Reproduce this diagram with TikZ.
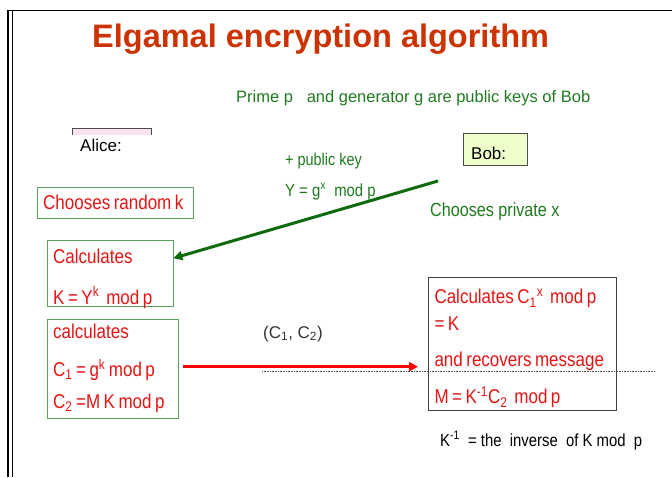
\documentclass[tikz,border=0pt]{standalone}
\usepackage{fontspec}
\setmainfont{Liberation Sans}
\newfontfamily\narrowfont{Liberation Sans}[FakeStretch=0.85]
\usetikzlibrary{arrows.meta, positioning}
\definecolor{titlered}{HTML}{CC3300}
\definecolor{keygreen}{HTML}{1F7A1F}
\definecolor{arrowgreen}{HTML}{0E6A0E}
\definecolor{boxgreen}{HTML}{5A9E5A}
\definecolor{msgred}{HTML}{E51515}
\definecolor{alicepink}{HTML}{FBE2F2}
\definecolor{bobfill}{HTML}{EEFFCC}
\tikzstyle{alicebox} = [rectangle, draw=boxgreen, fill=white, anchor=north west, align=left, text=msgred, inner xsep=6pt, inner ysep=2pt, font=\narrowfont\fontsize{20}{23}\selectfont, execute at begin node={\spaceskip=3.5pt plus 1pt minus 1pt\relax}]
\tikzstyle{bobbox} = [alicebox, draw=black!75, line width=1pt]
\tikzstyle{note} = [anchor=base west, inner sep=0pt, text=keygreen, font=\fontsize{16.5}{19}\selectfont]
\tikzstyle{arrow} = [-{Triangle[length=9pt,width=9pt]}]

\begin{document}
\begin{tikzpicture}[x=1pt, y=-1pt]
    \useasboundingbox (0,0) rectangle (672,477);
    % slide frame
    \draw[line width=2.5pt] (8,10) -- (8,477);
    \draw[line width=0.8pt] (12.5,10) -- (12.5,477);
    \draw[line width=1.2pt] (7,10.5) -- (672,10.5);

    \node (title) [anchor=base west, inner sep=0pt, text=titlered, font=\fontsize{32.5}{38}\selectfont\bfseries] at (92,47) {Elgamal encryption algorithm};
    \node (pubparams) [note] at (236,102) {Prime p \ \ and generator g are public keys of Bob};

    % Alice side
    \filldraw[fill=alicepink, draw=black!70] (72,135) -- (72,128.5) -- (151,128.5) -- (151,135);
    \node (alice) [anchor=base west, inner sep=0pt, font=\fontsize{17}{20}\selectfont] at (80,151) {Alice:};
    \node (choosek) [alicebox, text width=144pt, minimum height=31pt] at (37,187) {Chooses random k};
    \node (calcK) [alicebox, text width=114pt, minimum height=66pt] at (47,240) {\rule{0pt}{21pt}Calculates\\[18pt]\smash{K = Y\textsuperscript{k} \ mod p}};
    \node (calcC) [alicebox, text width=119pt, minimum height=99pt] at (47,319) {calculates\\[15pt]C\textsubscript{1} = g\textsuperscript{k} mod p\\[9pt]C\textsubscript{2} =M K mod p};

    % Bob side
    \node (bob) [rectangle, draw=black!70, fill=bobfill, anchor=north west, text width=48pt, inner xsep=8pt, minimum height=32pt, font=\fontsize{17}{20}\selectfont] at (463,133) {\rule{0pt}{20pt}Bob:};
    \node (pubkey) [note, font=\narrowfont\fontsize{17}{20}\selectfont] at (285,165) {+ public key};
    \node (ykey) [note, font=\narrowfont\fontsize{17.5}{20}\selectfont, below=31pt of pubkey.base west, anchor=base west] {Y = g\textsuperscript{x} \ mod p};
    \node (privx) [note, font=\narrowfont\fontsize{19}{22}\selectfont] at (430,216) {Chooses private x};
    \node (recover) [bobbox, text width=176pt, minimum height=133pt] at (428,277) {\rule{0pt}{24pt}Calculates C\textsubscript{1}\textsuperscript{x} \ mod p\\[4pt]= K\\[13pt]and recovers message\\[14pt]M = K\textsuperscript{-1}C\textsubscript{2} \ mod p};
    \node (kinverse) [anchor=base west, inner sep=0pt, font=\narrowfont\fontsize{17.5}{20}\selectfont] at (440,446) {K\textsuperscript{-1} \ = the \ inverse \ of K mod \ p};

    % messages
    \node (cipher) [anchor=base west, inner sep=0pt, text=black!80, font=\fontsize{17}{20}\selectfont] at (263,338) {(C\textsubscript{1}, C\textsubscript{2})};
    \coordinate (ysend) at (438,181);
    \draw [arrow, draw=arrowgreen, fill=arrowgreen, line width=3pt] (ysend) -- ([yshift=15pt]calcK.east);
    \draw [arrow, draw=red, fill=red, line width=3.5pt, shorten <=5pt, shorten >=10pt] ([yshift=2pt]calcC.east) -- ([yshift=2pt]calcC.east -| recover.west);
    \draw [densely dotted, black!70, line width=0.6pt] (262,371) -- (655,371);
\end{tikzpicture}
\end{document}
